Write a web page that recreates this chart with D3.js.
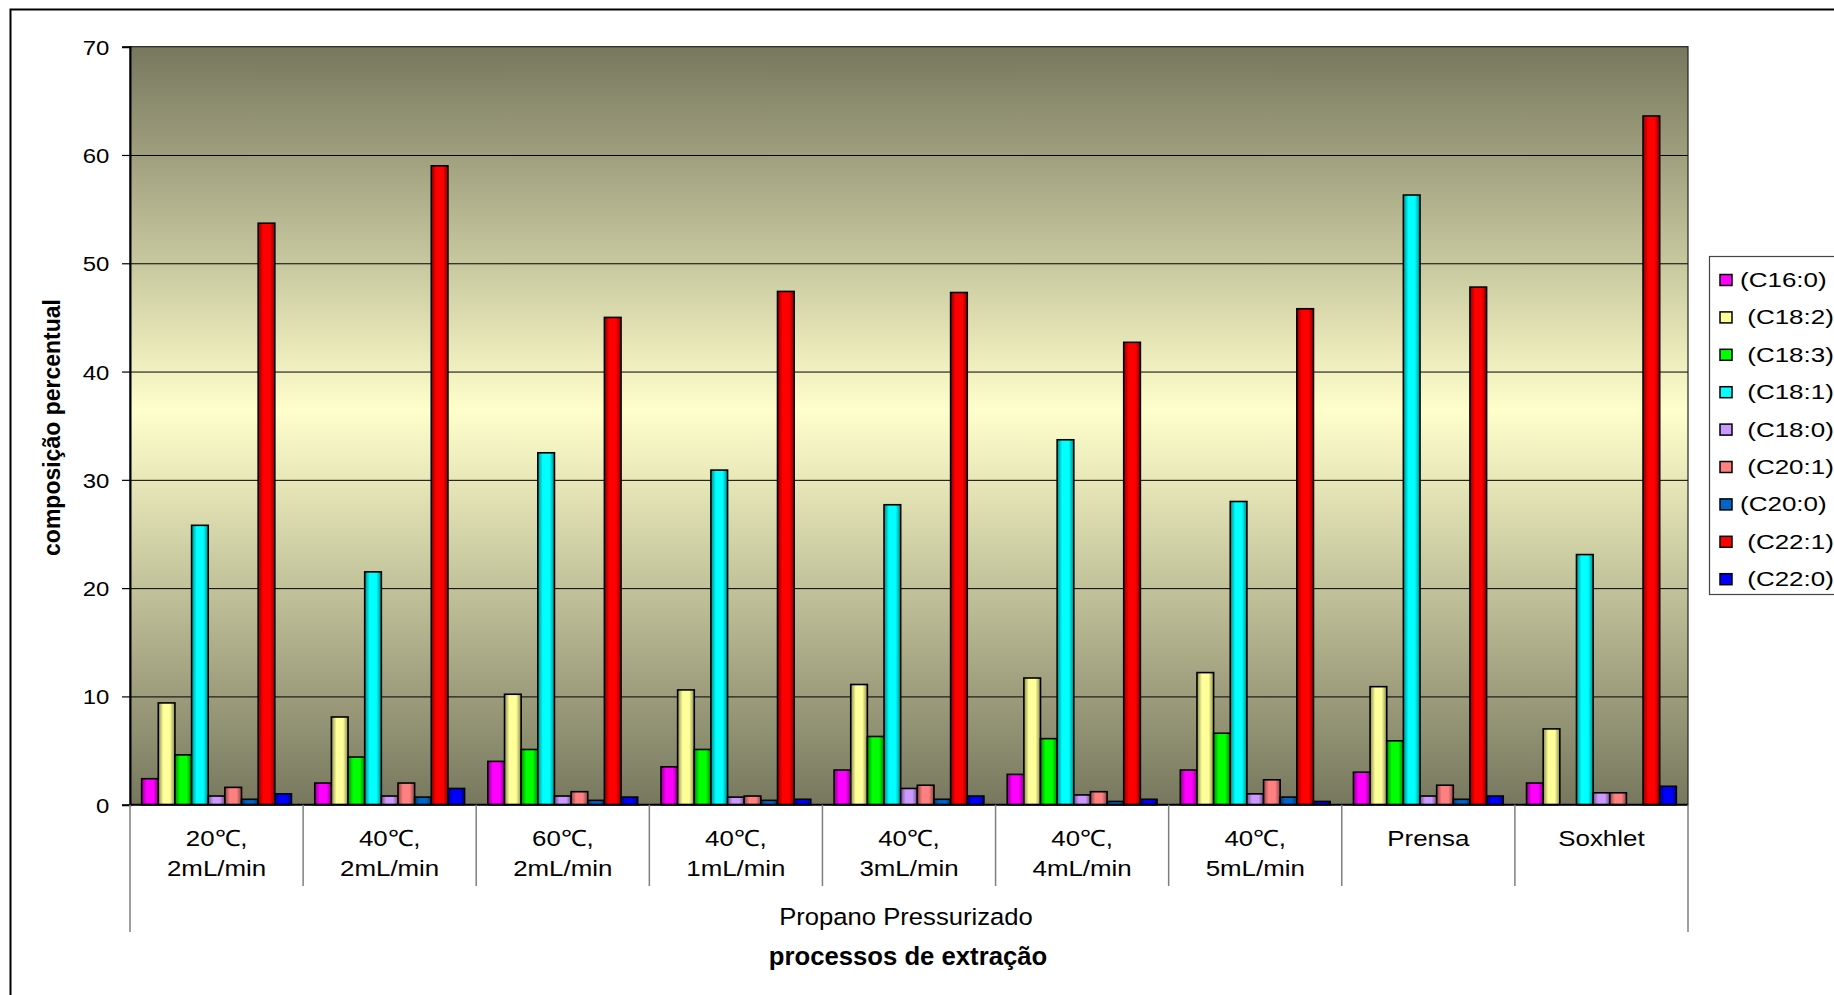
<!DOCTYPE html>
<html>
<head>
<meta charset="utf-8">
<script src="https://cdn.jsdelivr.net/npm/d3@7"></script>
<style>
  html, body { margin: 0; padding: 0; background: #ffffff; }
  svg { display: block; }
  text { font-family: "Liberation Sans", Arial, Helvetica, sans-serif; fill: #000; }
</style>
</head>
<body>
<svg id="chart" width="1834" height="995"></svg>
<script>
// Extraction processes (category axis), two text lines each
const categories = ["20℃, 2mL/min", "40℃, 2mL/min", "60℃, 2mL/min", "40℃, 1mL/min",
                    "40℃, 3mL/min", "40℃, 4mL/min", "40℃, 5mL/min", "Prensa", "Soxhlet"];
const categoryLines = [["20℃,", "2mL/min"], ["40℃,", "2mL/min"], ["60℃,", "2mL/min"],
                       ["40℃,", "1mL/min"], ["40℃,", "3mL/min"], ["40℃,", "4mL/min"],
                       ["40℃,", "5mL/min"], ["Prensa"], ["Soxhlet"]];
const groupLabel = "Propano Pressurizado";

// Fatty acid series (legend labels)
const seriesNames = ["(C16:0)", " (C18:2)", " (C18:3)", " (C18:1)", " (C18:0)",
                     " (C20:1)", "(C20:0)", " (C22:1)", " (C22:0)"];
const seriesColors = ["#ff00ff", "#ffff99", "#00ff00", "#00ffff", "#cc99ff",
                      "#ff8080", "#0066cc", "#ff0000", "#0000ff"];

// Percent composition per series, one value per category
const c16_0 = [2.4, 2.0, 4.0, 3.5, 3.2, 2.8, 3.2, 3.0, 2.0];
const c18_2 = [9.4, 8.1, 10.2, 10.6, 11.1, 11.7, 12.2, 10.9, 7.0];
const c18_3 = [4.6, 4.4, 5.1, 5.1, 6.3, 6.1, 6.6, 5.9, 0];
const c18_1 = [25.8, 21.5, 32.5, 30.9, 27.7, 33.7, 28.0, 56.3, 23.1];
const c18_0 = [0.8, 0.8, 0.8, 0.7, 1.5, 0.9, 1.0, 0.8, 1.1];
const c20_1 = [1.6, 2.0, 1.2, 0.8, 1.8, 1.2, 2.3, 1.8, 1.1];
const c20_0 = [0.5, 0.7, 0.4, 0.4, 0.5, 0.3, 0.7, 0.5, 0];
const c22_1 = [53.7, 59.0, 45.0, 47.4, 47.3, 42.7, 45.8, 47.8, 63.6];
const c22_0 = [1.0, 1.5, 0.7, 0.5, 0.8, 0.5, 0.3, 0.8, 1.7];
const seriesValues = [c16_0, c18_2, c18_3, c18_1, c18_0, c20_1, c20_0, c22_1, c22_0];

const yTicks = [0, 10, 20, 30, 40, 50, 60, 70];
const yTitle = "composição percentual";
const xTitle = "processos de extração";

// ---- layout ----
const plot = { left: 130, right: 1688, top: 46.7, bottom: 804.7 };
const svg = d3.select("#chart");
const defs = svg.append("defs");

// Outer chart frame (extends past the visible page on the right/bottom)
svg.append("rect")
  .attr("x", 10.5).attr("y", 9.5).attr("width", 2000).attr("height", 2000)
  .attr("fill", "none").attr("stroke", "#000").attr("stroke-width", 2);

// Plot-area background: dark olive at the edges, pale yellow in the middle
const bg = defs.append("linearGradient").attr("id", "plotBg")
  .attr("x1", 0).attr("y1", 0).attr("x2", 0).attr("y2", 1);
bg.append("stop").attr("offset", "0%").attr("stop-color", "#77775e");
bg.append("stop").attr("offset", "48%").attr("stop-color", "#ffffcc");
bg.append("stop").attr("offset", "100%").attr("stop-color", "#77775e");

svg.append("rect")
  .attr("x", plot.left).attr("y", plot.top)
  .attr("width", plot.right - plot.left).attr("height", plot.bottom - plot.top)
  .attr("fill", "url(#plotBg)");

// Scales
const y = d3.scaleLinear().domain([0, 70]).range([plot.bottom, plot.top]);
const x0 = d3.scaleBand().domain(categories).range([plot.left, plot.right]).padding(0);
const x1 = d3.scaleBand().domain(seriesNames).range([0, x0.bandwidth()])
  .paddingInner(0).paddingOuter(0.7);

// Horizontal gridlines
svg.append("g")
  .attr("transform", `translate(${plot.left},0)`)
  .call(d3.axisLeft(y).tickValues(yTicks.filter(t => t > 0 && t < 70))
    .tickSize(-(plot.right - plot.left)).tickFormat(""))
  .call(g => g.select(".domain").remove())
  .call(g => g.selectAll("line").attr("stroke", "#000").attr("stroke-width", 1));

// Horizontal shading per series (darker edges, bright centre)
seriesColors.forEach((c, i) => {
  const gr = defs.append("linearGradient").attr("id", "barFill" + i)
    .attr("x1", 0).attr("y1", 0).attr("x2", 1).attr("y2", 0);
  const dark = d3.color(c).darker(1.7).formatHex();
  gr.append("stop").attr("offset", "0%").attr("stop-color", dark);
  gr.append("stop").attr("offset", "30%").attr("stop-color", c);
  gr.append("stop").attr("offset", "70%").attr("stop-color", c);
  gr.append("stop").attr("offset", "100%").attr("stop-color", dark);
});

// Bars
const barData = [];
categories.forEach((cat, ci) => {
  seriesNames.forEach((s, si) => {
    const v = seriesValues[si][ci];
    if (v > 0) barData.push({ cat, s, si, v });
  });
});

svg.append("g").selectAll("rect")
  .data(barData)
  .join("rect")
  .attr("x", d => x0(d.cat) + x1(d.s))
  .attr("y", d => y(d.v))
  .attr("width", x1.bandwidth())
  .attr("height", d => y(0) - y(d.v))
  .attr("fill", d => `url(#barFill${d.si})`)
  .attr("stroke", "#000")
  .attr("stroke-width", 1.6);

// Plot-area border
svg.append("rect")
  .attr("x", plot.left).attr("y", plot.top)
  .attr("width", plot.right - plot.left).attr("height", plot.bottom - plot.top)
  .attr("fill", "none").attr("stroke", "#222").attr("stroke-width", 1.2);

// Value axis with ticks and labels
const yAxis = svg.append("g")
  .attr("transform", `translate(${plot.left},0)`)
  .call(d3.axisLeft(y).tickValues(yTicks).tickSize(8).tickPadding(0).tickFormat(d3.format("d")));
yAxis.select(".domain").attr("stroke", "#000").attr("stroke-width", 2);
yAxis.selectAll(".tick line").attr("stroke", "#000").attr("stroke-width", 1.2);
yAxis.selectAll(".tick text")
  .attr("font-family", null).attr("font-size", 21)
  .attr("x", -20.7 / 1.14).attr("dy", "0.36em")
  .attr("transform", "scale(1.14,1)");

// Category axis line
svg.append("line")
  .attr("x1", plot.left).attr("x2", plot.right)
  .attr("y1", plot.bottom).attr("y2", plot.bottom)
  .attr("stroke", "#000").attr("stroke-width", 2);

// Category dividers
const inner = categories.slice(1).map(c => x0(c));
svg.append("g").selectAll("line")
  .data(inner).join("line")
  .attr("x1", d => d).attr("x2", d => d)
  .attr("y1", plot.bottom).attr("y2", 886)
  .attr("stroke", "#7f7f7f").attr("stroke-width", 1.5);
svg.append("g").selectAll("line")
  .data([plot.left, plot.right]).join("line")
  .attr("x1", d => d).attr("x2", d => d)
  .attr("y1", plot.bottom).attr("y2", 932)
  .attr("stroke", "#7f7f7f").attr("stroke-width", 1.5);

// Category labels
const catG = svg.append("g").selectAll("g")
  .data(categories).join("g")
  .attr("transform", d => `translate(${x0(d) + x0.bandwidth() / 2},0)`);
catG.each(function (d, i) {
  d3.select(this).selectAll("text")
    .data(categoryLines[i]).join("text")
    .attr("text-anchor", "middle")
    .attr("font-size", 22.5)
    .attr("transform", (t, j) => `translate(0,${846 + j * 30}) scale(1.15,1)`)
    .text(t => t);
});

// Group label spanning the category axis
svg.append("text")
  .attr("text-anchor", "middle")
  .attr("font-size", 23.3)
  .attr("transform", `translate(${(plot.left + plot.right) / 2 - 3},925) scale(1.1,1)`)
  .text(groupLabel);

// Axis titles
svg.append("text")
  .attr("text-anchor", "middle")
  .attr("font-size", 25.7).attr("font-weight", "bold")
  .attr("transform", `translate(${(plot.left + plot.right) / 2 - 1},965)`)
  .text(xTitle);

svg.append("text")
  .attr("text-anchor", "middle")
  .attr("font-size", 23).attr("font-weight", "bold")
  .attr("transform", "translate(60,427.5) rotate(-90)")
  .text(yTitle);

// Legend
const legend = svg.append("g");
legend.append("rect")
  .attr("x", 1709.5).attr("y", 256.5).attr("width", 200).attr("height", 338)
  .attr("fill", "#fff").attr("stroke", "#444").attr("stroke-width", 1.2);
const item = legend.selectAll("g.item")
  .data(seriesNames).join("g").attr("class", "item")
  .attr("transform", (d, i) => `translate(0,${280 + i * 37.4})`);
item.append("rect")
  .attr("x", 1720).attr("y", -5.5).attr("width", 12).attr("height", 11)
  .attr("fill", (d, i) => seriesColors[i])
  .attr("stroke", "#000").attr("stroke-width", 1.5);
item.append("text")
  .attr("font-size", 20)
  .style("white-space", "pre")
  .attr("transform", "translate(1740,7) scale(1.3,1)")
  .text(d => d);
</script>
</body>
</html>
